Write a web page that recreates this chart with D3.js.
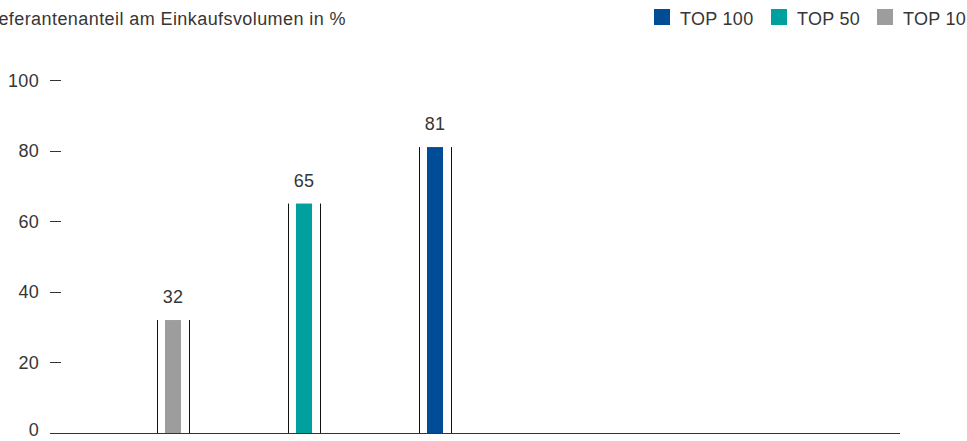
<!DOCTYPE html>
<html>
<head>
<meta charset="utf-8">
<script src="https://cdn.jsdelivr.net/npm/d3@7"></script>
<style>
  html, body { margin: 0; padding: 0; background: #fff; overflow: hidden; }
  svg { display: block; }
  text { font-family: "Liberation Sans", Arial, sans-serif; fill: #363636; letter-spacing: 0.3px; }
  text.title { letter-spacing: 0.42px; }
</style>
</head>
<body>
<svg id="chart" width="967" height="441"></svg>
<script>
// Supplier share of purchasing volume (%)
const categories = ["TOP 10", "TOP 50", "TOP 100"];
const values = [32, 65, 81];
const colors = ["#9d9d9d", "#00a0a0", "#004c97"];
const legendOrder = ["TOP 100", "TOP 50", "TOP 10"];
const yTicks = [0, 20, 40, 60, 80, 100];
const title = "Lieferantenanteil am Einkaufsvolumen in %";

const svg = d3.select("#chart");
const fontSize = 18;

const y = d3.scaleLinear().domain([0, 100]).range([433, 80]);
const x = d3.scaleBand().domain(categories).range([107, 500]).padding(0);
const color = d3.scaleOrdinal().domain(categories).range(colors);

// Title (right-anchored so its start runs past the left edge)
svg.append("text")
  .attr("class", "title")
  .attr("x", 346)
  .attr("y", 25)
  .attr("text-anchor", "end")
  .style("font-size", fontSize + "px")
  .text(title);

// Legend
const legendX = [654, 771, 877];
const legend = svg.append("g")
  .selectAll("g")
  .data(legendOrder)
  .join("g")
  .attr("transform", (d, i) => `translate(${legendX[i]},0)`);
legend.append("rect")
  .attr("x", 0).attr("y", 9)
  .attr("width", 16).attr("height", 16)
  .attr("fill", d => color(d));
legend.append("text")
  .attr("x", 26).attr("y", 25)
  .style("font-size", fontSize + "px")
  .text(d => d);

// Y axis: labels with short dashes
const yAxis = svg.append("g");
yAxis.selectAll("text")
  .data(yTicks)
  .join("text")
  .attr("x", 39)
  .attr("y", d => y(d) + (d === 0 ? 3 : 6.5))
  .attr("text-anchor", "end")
  .style("font-size", fontSize + "px")
  .text(d => d);
yAxis.selectAll("line")
  .data(yTicks.filter(d => d > 0))
  .join("line")
  .attr("x1", 50).attr("x2", 61)
  .attr("y1", d => Math.round(y(d)) + 0.5)
  .attr("y2", d => Math.round(y(d)) + 0.5)
  .attr("stroke", "#333").attr("stroke-width", 1);

// Bars with thin framing lines on each side
const bw = 16, gap = 8;
const bars = svg.append("g")
  .selectAll("g")
  .data(categories.map((c, i) => ({ c, v: values[i] })))
  .join("g")
  .attr("transform", d => `translate(${Math.round(x(d.c) + x.bandwidth() / 2)},0)`);

bars.append("rect")
  .attr("x", -bw / 2)
  .attr("y", d => y(d.v))
  .attr("width", bw)
  .attr("height", d => y(0) - y(d.v))
  .attr("fill", d => color(d.c));

[-1, 1].forEach(s => {
  bars.append("line")
    .attr("x1", s * (bw / 2 + gap) + 0.5)
    .attr("x2", s * (bw / 2 + gap) + 0.5)
    .attr("y1", d => y(d.v))
    .attr("y2", y(0))
    .attr("stroke", "#111").attr("stroke-width", 1);
});

bars.append("text")
  .attr("x", 0)
  .attr("y", d => y(d.v) - 17)
  .attr("text-anchor", "middle")
  .style("font-size", fontSize + "px")
  .text(d => d.v);

// Baseline
svg.append("line")
  .attr("x1", 50).attr("x2", 900)
  .attr("y1", Math.round(y(0)) + 0.5).attr("y2", Math.round(y(0)) + 0.5)
  .attr("stroke", "#333").attr("stroke-width", 1.2);
</script>
</body>
</html>
